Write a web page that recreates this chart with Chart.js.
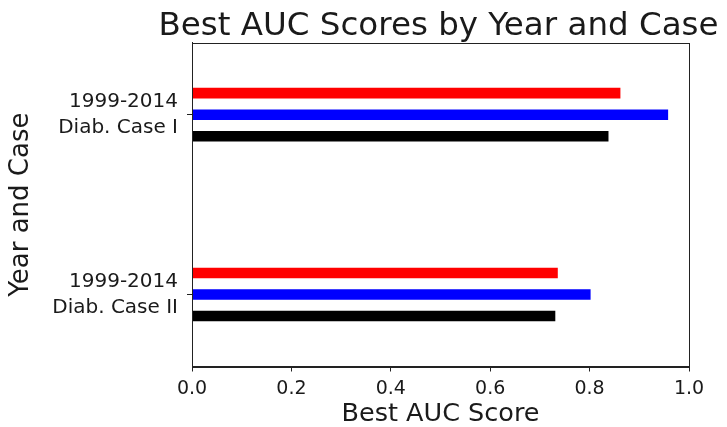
<!DOCTYPE html>
<html>
<head>
<meta charset="utf-8">
<title>Best AUC Scores by Year and Case</title>
<script src="https://cdn.jsdelivr.net/npm/chart.js@4.4.1/dist/chart.umd.min.js"></script>
<style>
    html, body { margin: 0; padding: 0; background: #fff; }
    #wrap { width: 727px; height: 427px; }
</style>
</head>
<body>
<div id="wrap"><canvas id="aucChart"></canvas></div>
<script>
// Categories, top to bottom
const categories = [
    ["1999-2014", "Diab. Case I"],
    ["1999-2014", "Diab. Case II"]
];

// Series values (one per category)
const redScores = [0.862, 0.736];
const blueScores = [0.958, 0.802];
const blackScores = [0.838, 0.731];

const xTicks = [0.0, 0.2, 0.4, 0.6, 0.8, 1.0];

const chartTitle = "Best AUC Scores by Year and Case";
const fontFamily = "'DejaVu Sans', 'Liberation Sans', sans-serif";
const textColor = "#1a1a1a";

const toPoints = (arr) => arr.map((v, i) => ({ x: v, y: i }));

// Box around the plot area (matplotlib spines) + title over the plot,
// drawn by hand so it is not squeezed to the plot width
const frame = {
    id: "frame",
    afterDraw(chart) {
        const { ctx, chartArea } = chart;
        ctx.save();
        ctx.strokeStyle = "#222";
        ctx.lineWidth = 1;
        ctx.strokeRect(
            Math.round(chartArea.left) + 0.5,
            Math.round(chartArea.top) + 0.5,
            Math.round(chartArea.right - chartArea.left),
            Math.round(chartArea.bottom - chartArea.top)
        );
        ctx.fillStyle = textColor;
        ctx.font = "32.5px " + fontFamily;
        ctx.textAlign = "center";
        ctx.textBaseline = "alphabetic";
        ctx.fillText(chartTitle, (chartArea.left + chartArea.right) / 2 - 2, 35);
        ctx.restore();
    }
};

const aucCtx = document.getElementById("aucChart");

if (aucCtx) {
    new Chart(aucCtx, {
        type: "bar",
        data: {
            datasets: [
                { label: "Red", data: toPoints(redScores), backgroundColor: "#ff0000" },
                { label: "Blue", data: toPoints(blueScores), backgroundColor: "#0000ff" },
                { label: "Black", data: toPoints(blackScores), backgroundColor: "#000000" }
            ]
        },
        options: {
            indexAxis: "y",
            responsive: true,
            maintainAspectRatio: false,
            animation: false,
            categoryPercentage: 0.359,
            barPercentage: 0.49,
            layout: {
                padding: { left: 0, right: 38, top: 42.7, bottom: 0 }
            },
            plugins: {
                legend: { display: false },
                tooltip: { enabled: false },
                title: { display: false }
            },
            scales: {
                x: {
                    type: "linear",
                    min: 0,
                    max: 1,
                    afterBuildTicks: (scale) => {
                        scale.ticks = xTicks.map(v => ({ value: v }));
                    },
                    afterFit: (scale) => { scale.height = 60.5; },
                    ticks: {
                        color: textColor,
                        padding: 6,
                        font: { family: fontFamily, size: 19 },
                        callback: (value) => Number(value).toFixed(1)
                    },
                    grid: {
                        drawOnChartArea: false,
                        tickLength: 5,
                        color: "#222"
                    },
                    border: { display: true, color: "#222" },
                    title: {
                        display: true,
                        text: "Best AUC Score",
                        color: textColor,
                        font: { family: fontFamily, size: 25.5, lineHeight: 1 },
                        padding: { top: 0, bottom: 0 }
                    }
                },
                y: {
                    type: "linear",
                    reverse: true,
                    offset: false,
                    min: -0.4,
                    max: 1.4,
                    afterBuildTicks: (scale) => {
                        scale.ticks = categories.map((c, i) => ({ value: i }));
                    },
                    afterFit: (scale) => { scale.width = 192; },
                    ticks: {
                        color: textColor,
                        padding: 9,
                        font: { family: fontFamily, size: 20, lineHeight: 1.3 },
                        callback: (value) => categories[value]
                    },
                    grid: {
                        offset: false,
                        drawOnChartArea: false,
                        tickLength: 5,
                        color: "#222"
                    },
                    border: { display: true, color: "#222" },
                    title: {
                        display: true,
                        text: "Year and Case",
                        color: textColor,
                        font: { family: fontFamily, size: 26, lineHeight: 1 },
                        padding: { top: 8, bottom: 0 }
                    }
                }
            }
        },
        plugins: [frame]
    });
}
</script>
</body>
</html>
